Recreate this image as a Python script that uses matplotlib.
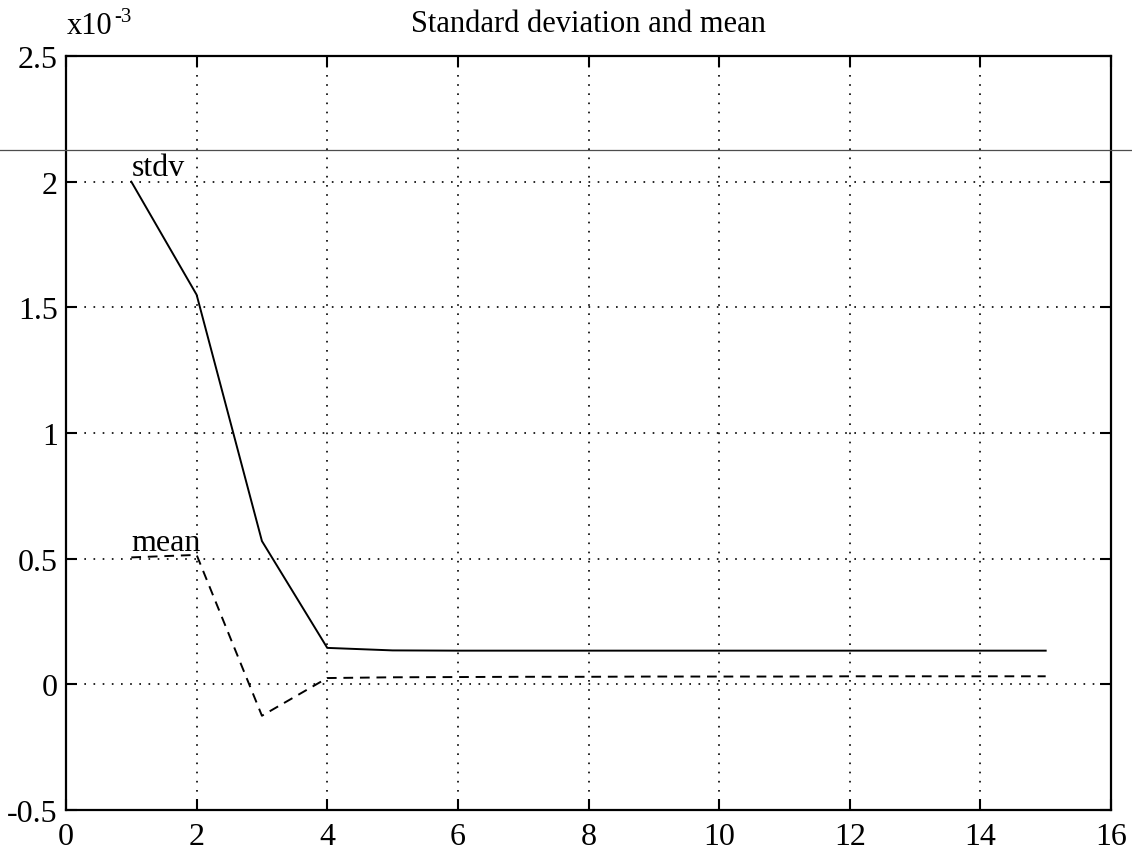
import numpy as np
import matplotlib
matplotlib.use("Agg")
import matplotlib.pyplot as plt
from matplotlib.lines import Line2D
from matplotlib.ticker import FuncFormatter

plt.rcParams['font.family'] = ['Liberation Serif', 'DejaVu Serif']
plt.rcParams['axes.unicode_minus'] = False

# iteration number
steps = np.arange(1, 16)

# standard deviation and mean of the error
stdv = np.array([2.00, 1.55, 0.57, 0.145, 0.135, 0.134, 0.134, 0.134,
                 0.134, 0.134, 0.134, 0.134, 0.134, 0.134, 0.134]) * 1e-3
mean = np.array([0.505, 0.515, -0.125, 0.025, 0.028, 0.029, 0.030, 0.030,
                 0.031, 0.031, 0.031, 0.032, 0.032, 0.032, 0.032]) * 1e-3

xticks = np.arange(0, 17, 2)
yticks = np.arange(-0.5, 2.51, 0.5) * 1e-3

fig = plt.figure(figsize=(11.32, 8.53), dpi=100)
ax = fig.add_axes([66/1132, 1 - 811/853, (1111 - 66)/1132, (811 - 57)/853])

ax.plot(steps, stdv, color='black', lw=1.4, linestyle='-')
ax.plot(steps, mean, color='black', lw=1.4, linestyle=(0, (5, 3.5)))

ax.text(1, stdv[0], 'stdv', fontsize=23, ha='left', va='bottom')
ax.text(1, mean[0], 'mean', fontsize=23, ha='left', va='bottom')

ax.set_xlim(0, 16)
ax.set_ylim(-0.5e-3, 2.5e-3)
ax.set_xticks(xticks)
ax.set_yticks(yticks)
ax.yaxis.set_major_formatter(FuncFormatter(lambda v, p: '%g' % round(v * 1e3, 3)))

ax.grid(True, color='black', linestyle=(0, (1, 4.5)), linewidth=1.2)
ax.tick_params(direction='in', length=8, width=1.5, labelsize=23, pad=6,
               top=True, right=True)
ax.tick_params(axis='x', pad=9)
for s in ax.spines.values():
    s.set_linewidth(1.6)

ax.set_title('Standard deviation and mean', fontsize=22, pad=18)

# scale factor of the y axis
fig.text(67/1132, 1 - 34/853, 'x10', fontsize=22, ha='left', va='baseline')
fig.text(114/1132, 1 - 22/853, '-3', fontsize=15, ha='left', va='baseline')

# thin line running across the whole sheet
fig.add_artist(Line2D([0, 1], [1 - 151/853, 1 - 151/853], transform=fig.transFigure,
                      color='0.3', lw=0.9))

fig.savefig('out.png', dpi=100)
